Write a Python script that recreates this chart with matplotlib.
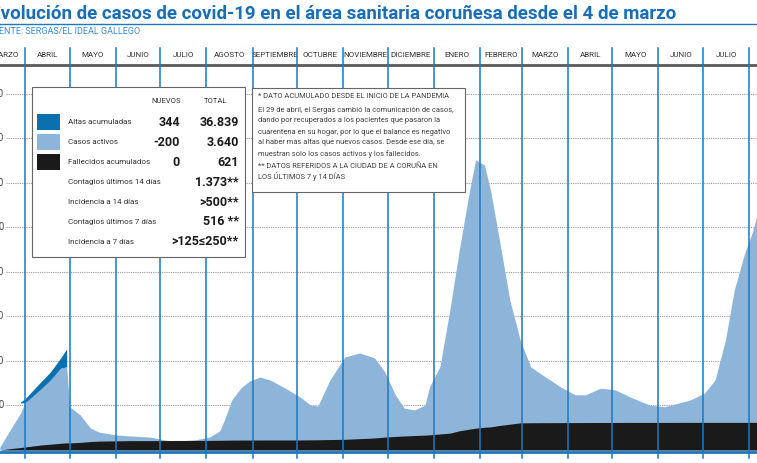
"""Evolución de casos de covid-19 en el área sanitaria coruñesa — writes out.png."""

import matplotlib.pyplot as plt
from matplotlib.patches import Rectangle
from matplotlib.transforms import blended_transform_factory

W, H = 757, 463
BLUE = "#1a78c2"
LIGHT = "#8db5d9"
DARK = "#0b70b0"
BLACK = "#1a1a1a"

# days since 4 March 2020
days = [11, 18, 25, 28, 38, 45, 52, 56, 58, 65, 72, 78, 89, 99, 112, 122, 129, 142,
        152, 159, 162, 167, 173, 179, 186, 193, 203, 213, 220, 225, 233, 243, 253, 263,
        270, 277, 283, 290, 297, 300, 307, 314, 320, 327, 331, 337, 341, 347, 354, 361,
        368, 378, 388, 398, 405, 415, 425, 435, 448, 458, 475, 485, 492, 499, 505, 512,
        517, 520]
# top of the stacked area (fallecidos + casos activos)
total_top = [67, 450, 830, 1060, 1350, 1570, 1840, 1870, 970, 790, 490, 400, 340, 315,
             290, 225, 200, 225, 290, 430, 670, 1120, 1390, 1550, 1640, 1570, 1390, 1190,
             1010, 990, 1570, 2090, 2180, 2070, 1750, 1240, 940, 900, 1010, 1420, 1870,
             3210, 4490, 5840, 6520, 6400, 5840, 4720, 3370, 2470, 1870, 1640, 1420, 1240,
             1240, 1390, 1350, 1190, 1010, 970, 1120, 1280, 1570, 2470, 3600, 4430, 4880,
             5240]
fallecidos = [0, 30, 55, 67, 110, 130, 150, 160, 160, 170, 190, 200, 205, 210, 210, 212,
              214, 215, 216, 218, 220, 222, 223, 224, 225, 225, 225, 225, 228, 230, 235,
              240, 255, 270, 290, 305, 315, 325, 335, 340, 360, 380, 430, 470, 490, 510,
              520, 550, 580, 610, 612, 614, 615, 616, 617, 618, 619, 620, 620, 620, 621,
              621, 621, 621, 621, 621, 621, 621]
# early period: altas acumuladas stacked on top
altas_days = [25, 28, 38, 45, 52, 56]
altas_top = [1080, 1150, 1510, 1750, 2070, 2270]
altas_base = [1060, 1060, 1350, 1570, 1840, 1870]

month_starts = [28, 58, 89, 119, 150, 181, 211, 242, 272, 303, 334, 362, 393, 423,
                454, 484, 515]
month_names = ["MARZO", "ABRIL", "MAYO", "JUNIO", "JULIO", "AGOSTO", "SEPTIEMBRE",
               "OCTUBRE", "NOVIEMBRE", "DICIEMBRE", "ENERO", "FEBRERO", "MARZO", "ABRIL",
               "MAYO", "JUNIO", "JULIO"]
grid_values = [1000, 2000, 3000, 4000, 5000, 6000, 7000, 8000]

legend_rows = [("Altas acumuladas", "344", "36.839"),
               ("Casos activos", "-200", "3.640"),
               ("Fallecidos acumulados", "0", "621"),
               ("Contagios últimos 14 días", "", "1.373**"),
               ("Incidencia a 14 días", "", ">500**"),
               ("Contagios últimos 7 días", "", "516 **"),
               ("Incidencia a 7 días", "", ">125≤250**")]
note_lines = ["* DATO ACUMULADO DESDE EL INICIO DE LA PANDEMIA",
              "El 29 de abril, el Sergas cambió la comunicación de casos,",
              "dando por recuperados a los pacientes que pasaron la",
              "cuarentena en su hogar, por lo que el balance es negativo",
              "al haber más altas que nuevos casos. Desde ese día, se",
              "muestran solo los casos activos y los fallecidos.",
              "** DATOS REFERIDOS A LA CIUDAD DE A CORUÑA EN",
              "LOS ÚLTIMOS 7 y 14 DÍAS"]

plt.rcParams["font.family"] = "Roboto"


def fx(px):
    return px / W


def fy(py):
    return 1 - py / H


fig = plt.figure(figsize=(W / 100, H / 100), dpi=100)
top_px, bot_px = 65, 452
ax = fig.add_axes([0, fy(bot_px), 1, (bot_px - top_px) / H])
px_per_day = 1.487
ax.set_xlim(16.6 / px_per_day, (W + 16.6) / px_per_day)
ax.set_ylim(-45, 8650)
for v in grid_values:
    ax.axhline(v, xmin=0.008, color="0.6", lw=0.8, ls=(0, (1, 1)), zorder=1)
    ax.text(fx(4), v, f"{v:,}".replace(",", "."), transform=blended_transform_factory(
        fig.transFigure, ax.transData), ha="right", va="center", fontsize=7, color="0.3")

ax.fill_between(days, 0, total_top, color=LIGHT, lw=0, zorder=2)
ax.fill_between(altas_days, altas_base, altas_top, color=DARK, lw=0, zorder=2)
ax.fill_between(days, 0, fallecidos, color=BLACK, lw=0, zorder=3)

ymin = (bot_px - 458) / (bot_px - top_px)
ymax = (bot_px - 48) / (bot_px - top_px)
for d in month_starts:
    ax.axvline(d, ymin=ymin, ymax=ymax, color=BLUE, lw=1.1, clip_on=False, zorder=4)
tr = blended_transform_factory(ax.transData, fig.transFigure)
edges = [-5] + month_starts
for i, name in enumerate(month_names):
    ax.text((edges[i] + edges[i + 1]) / 2 + (3 if i == 0 else 0), fy(55), name,
            transform=tr, ha="center", va="center", fontsize=5.8, color="0.2")

for s in ["left", "right"]:
    ax.spines[s].set_visible(False)
ax.spines["top"].set_color("0.35")
ax.spines["top"].set_linewidth(2)
ax.spines["bottom"].set_color(BLUE)
ax.spines["bottom"].set_linewidth(2)
ax.set_xticks([])
ax.set_yticks([])

# title
fig.text(fx(-10), fy(14), "Evolución de casos de covid-19 en el área sanitaria coruñesa "
         "desde el 4 de marzo", fontsize=13.5, fontweight="bold", color="#1a6eb5",
         va="center", ha="left")
fig.add_artist(plt.Line2D([0, 1], [fy(24), fy(24)], color=BLUE, lw=1))
fig.text(fx(-12), fy(31), "FUENTE: SERGAS/EL IDEAL GALLEGO", fontsize=6.5,
         color="#3d8fd0", va="center")

# legend box
fig.add_artist(Rectangle((fx(32), fy(257)), fx(213), (257 - 87) / H,
                         transform=fig.transFigure, facecolor="white", edgecolor="0.4",
                         lw=0.8, zorder=5))
fig.text(fx(166), fy(101), "NUEVOS", fontsize=5.5, ha="center", va="center", zorder=6,
         color="0.2")
fig.text(fx(216), fy(101), "TOTAL", fontsize=5.5, ha="center", va="center", zorder=6,
         color="0.2")
for i, (col, (label, new, tot)) in enumerate(zip([DARK, LIGHT, BLACK] + [None] * 4,
                                                legend_rows)):
    yc = 122 + i * 20
    if col:
        fig.add_artist(Rectangle((fx(37), fy(yc + 8)), fx(23), 16 / H,
                                 transform=fig.transFigure, facecolor=col, edgecolor="none",
                                 zorder=6))
    fig.text(fx(68), fy(yc), label, fontsize=5.8, va="center", zorder=6, color="0.2")
    if new:
        fig.text(fx(180), fy(yc), new, fontsize=9, fontweight="bold", ha="right",
                 va="center", zorder=6, color="0.1")
    fig.text(fx(239), fy(yc), tot, fontsize=9, fontweight="bold", ha="right",
             va="center", zorder=6, color="0.1")

# note box
fig.add_artist(Rectangle((fx(252), fy(192)), fx(213), (192 - 88) / H,
                         transform=fig.transFigure, facecolor="white", edgecolor="0.4",
                         lw=0.8, zorder=5))
note_y = [97, 110, 121, 132, 143, 154, 166, 177]
for y, line in zip(note_y, note_lines):
    fig.text(fx(258), fy(y), line, fontsize=5.4, va="center", zorder=6, color="0.25")

fig.savefig("out.png", dpi=100)
